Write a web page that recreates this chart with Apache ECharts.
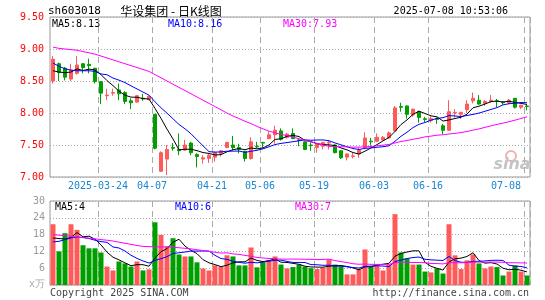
<!DOCTYPE html>
<html>
<head>
<meta charset="utf-8">
<script src="https://cdn.jsdelivr.net/npm/echarts@6/dist/echarts.min.js"></script>
<style>
  html, body { margin: 0; padding: 0; background: #fff; }
  #chart { width: 545px; height: 300px; }
</style>
</head>
<body>
<div id="chart"></div>
<script>
// trading days shown on the chart
const dates = [
  '2025-03-12', '2025-03-13', '2025-03-14', '2025-03-17', '2025-03-18', '2025-03-19', '2025-03-20', '2025-03-21',
  '2025-03-24', '2025-03-25', '2025-03-26', '2025-03-27', '2025-03-28', '2025-03-31', '2025-04-01', '2025-04-02',
  '2025-04-03', '2025-04-07', '2025-04-08', '2025-04-09', '2025-04-10', '2025-04-11', '2025-04-14', '2025-04-15',
  '2025-04-16', '2025-04-17', '2025-04-18', '2025-04-21', '2025-04-22', '2025-04-23', '2025-04-24', '2025-04-25',
  '2025-04-28', '2025-04-29', '2025-04-30', '2025-05-06', '2025-05-07', '2025-05-08', '2025-05-09', '2025-05-12',
  '2025-05-13', '2025-05-14', '2025-05-15', '2025-05-16', '2025-05-19', '2025-05-20', '2025-05-21', '2025-05-22',
  '2025-05-23', '2025-05-26', '2025-05-27', '2025-05-28', '2025-05-29', '2025-05-30', '2025-06-03', '2025-06-04',
  '2025-06-05', '2025-06-06', '2025-06-09', '2025-06-10', '2025-06-11', '2025-06-12', '2025-06-13', '2025-06-16',
  '2025-06-17', '2025-06-18', '2025-06-19', '2025-06-20', '2025-06-23', '2025-06-24', '2025-06-25', '2025-06-26',
  '2025-06-27', '2025-06-30', '2025-07-01', '2025-07-02', '2025-07-03', '2025-07-04', '2025-07-07', '2025-07-08'
];
const labelDays = ['2025-03-24', '2025-04-07', '2025-04-21', '2025-05-06', '2025-05-19', '2025-06-03', '2025-06-16', '2025-07-08'];

const opens = [
  8.50, 8.77, 8.70, 8.53, 8.62, 8.77, 8.76, 8.70, 8.49, 8.27, 8.31, 8.36, 8.32, 8.19, 8.17, 8.23,
  8.21, 7.98, 7.09, 7.28, 7.46, 7.43, 7.42, 7.53, 7.35, 7.28, 7.29, 7.31, 7.37, 7.46, 7.50, 7.46,
  7.40, 7.29, 7.48, 7.54, 7.60, 7.66, 7.72, 7.62, 7.68, 7.58, 7.55, 7.50, 7.46, 7.48, 7.53, 7.50,
  7.41, 7.31, 7.32, 7.36, 7.46, 7.56, 7.56, 7.58, 7.61, 7.72, 8.10, 8.11, 7.97, 8.02, 7.91, 7.88,
  7.91, 7.80, 7.73, 8.00, 7.98, 8.05, 8.19, 8.20, 8.15, 8.18, 8.19, 8.17, 8.16, 8.23, 8.09, 8.11
];
const closes = [
  8.84, 8.63, 8.56, 8.67, 8.75, 8.71, 8.74, 8.49, 8.31, 8.28, 8.32, 8.30, 8.18, 8.16, 8.27, 8.22,
  8.26, 7.45, 7.38, 7.43, 7.45, 7.41, 7.50, 7.38, 7.32, 7.30, 7.34, 7.38, 7.41, 7.54, 7.46, 7.43,
  7.29, 7.55, 7.47, 7.53, 7.66, 7.73, 7.59, 7.67, 7.60, 7.57, 7.43, 7.49, 7.51, 7.54, 7.54, 7.38,
  7.30, 7.36, 7.33, 7.42, 7.61, 7.55, 7.62, 7.62, 7.69, 8.08, 8.09, 7.98, 8.06, 7.93, 7.90, 7.91,
  7.90, 7.73, 8.02, 8.01, 8.01, 8.14, 8.23, 8.14, 8.18, 8.20, 8.18, 8.16, 8.20, 8.09, 8.12, 8.10
];
const lows = [
  8.46, 8.50, 8.51, 8.50, 8.60, 8.62, 8.62, 8.46, 8.14, 8.20, 8.27, 8.20, 8.14, 8.06, 8.16, 8.19,
  8.20, 7.43, 7.08, 7.03, 7.41, 7.34, 7.41, 7.34, 7.15, 7.21, 7.22, 7.24, 7.32, 7.45, 7.42, 7.37,
  7.24, 7.27, 7.45, 7.45, 7.59, 7.52, 7.57, 7.60, 7.59, 7.48, 7.42, 7.41, 7.38, 7.43, 7.43, 7.37,
  7.28, 7.26, 7.29, 7.30, 7.45, 7.49, 7.55, 7.57, 7.60, 7.71, 8.02, 7.91, 7.94, 7.85, 7.86, 7.85,
  7.83, 7.67, 7.72, 7.93, 7.91, 8.00, 8.15, 8.13, 8.11, 8.16, 8.09, 8.13, 8.14, 8.07, 8.06, 8.04
];
const highs = [
  8.89, 8.79, 8.72, 8.77, 8.89, 8.78, 8.85, 8.70, 8.50, 8.38, 8.38, 8.46, 8.34, 8.23, 8.28, 8.30,
  8.27, 7.98, 7.40, 7.50, 7.53, 7.68, 7.58, 7.55, 7.37, 7.34, 7.37, 7.40, 7.42, 7.55, 7.64, 7.52,
  7.41, 7.62, 7.55, 7.55, 7.71, 7.80, 7.76, 7.69, 7.76, 7.60, 7.56, 7.54, 7.53, 7.55, 7.57, 7.51,
  7.42, 7.37, 7.38, 7.46, 7.70, 7.61, 7.68, 7.64, 7.71, 8.11, 8.16, 8.12, 8.07, 8.04, 7.94, 7.95,
  7.93, 7.83, 8.20, 8.06, 8.02, 8.20, 8.32, 8.28, 8.20, 8.28, 8.22, 8.18, 8.22, 8.23, 8.13, 8.14
];
// volume, 万手
const volumes = [
  21.7, 12.0, 18.5, 21.7, 19.7, 14.2, 13.1, 13.1, 11.6, 6.6, 5.2, 8.4, 7.7, 6.6, 8.4, 5.2,
  5.6, 22.4, 17.9, 13.8, 16.7, 10.9, 10.2, 10.2, 8.1, 5.9, 5.2, 7.0, 6.6, 10.6, 10.2, 7.0,
  7.0, 13.4, 6.3, 8.1, 8.8, 10.2, 7.3, 5.9, 6.4, 7.3, 6.6, 6.0, 5.7, 6.2, 9.1, 7.3,
  6.6, 3.8, 3.8, 5.6, 12.7, 6.6, 7.0, 5.2, 7.3, 25.3, 11.6, 9.5, 7.3, 7.3, 4.8, 4.5,
  5.9, 4.1, 21.7, 10.6, 5.7, 8.8, 10.9, 7.7, 5.9, 6.6, 6.4, 3.4, 4.8, 7.0, 4.8, 3.4
];

// averages before enough days are on the chart
const ma5Head = [8.66, 8.64, 8.63, 8.64];
const ma10Head = [8.78, 8.73, 8.69, 8.67, 8.66, 8.66, 8.66, 8.65, 8.61];
const ma30Head = [9.03, 9.01, 9.00, 8.99, 8.98, 8.96, 8.94, 8.92, 8.89, 8.86, 8.83, 8.80, 8.77, 8.74, 8.71,
  8.68, 8.65, 8.60, 8.55, 8.50, 8.45, 8.40, 8.35, 8.30, 8.25, 8.20, 8.15, 8.10, 8.05];
const vma5Head = [16.8, 16.6, 16.4, 17.0];
const vma10Head = [15.4, 15.6, 16.2, 16.8, 17.1, 17.0, 16.6, 16.0, 15.5];
const vma30Head = [18.0, 17.8, 17.6, 17.4, 17.1, 16.9, 16.7, 16.5, 16.2, 16.0, 15.7, 15.3, 14.9, 14.5, 14.1,
  13.8, 13.7, 13.6, 13.6, 13.6, 13.5, 13.3, 13.1, 12.9, 12.6, 12.3, 12.0, 11.7, 11.4];

const UP = '#ff5a5a';
const DOWN = '#009f00';
const MONO = '"DejaVu Sans Mono", monospace';

function movingAverage(values, n, head) {
  return values.map((v, i) => {
    if (i < n - 1) return head[i];
    let sum = 0;
    for (let j = i - n + 1; j <= i; j++) sum += values[j];
    return +(sum / n).toFixed(3);
  });
}

const candles = dates.map((d, i) => [opens[i], closes[i], lows[i], highs[i]]);
const volBars = volumes.map((v, i) => ({
  value: v,
  itemStyle: { color: closes[i] >= opens[i] ? UP : DOWN }
}));

const isLabelDay = (idx, val) => labelDays.includes(val);

const dashedSplit = {
  show: true,
  interval: isLabelDay,
  lineStyle: { color: '#aaa', type: [6, 4], width: 1 }
};
const dottedSplit = {
  show: true,
  lineStyle: { color: '#aaa', type: [1, 2], width: 1 }
};

function maLine(name, data, color, x, y) {
  return {
    name, type: 'line', xAxisIndex: x, yAxisIndex: y, data,
    showSymbol: false, symbol: 'none', silent: true,
    lineStyle: { color, width: 1 }
  };
}

function label(text, x, y, color, align, font) {
  return {
    type: 'text', x, y, silent: true,
    style: {
      text, fill: color, textAlign: align || 'left', textVerticalAlign: 'middle',
      font: font || '10px ' + MONO
    }
  };
}

const chart = echarts.init(document.getElementById('chart'));
chart.setOption({
  animation: false,
  backgroundColor: '#fff',
  grid: [
    { left: 50, top: 17, width: 480, height: 160, show: true, borderColor: '#999', borderWidth: 1, backgroundColor: 'transparent' },
    { left: 50, top: 201, width: 480, height: 84, show: true, borderColor: '#999', borderWidth: 1, backgroundColor: 'transparent' }
  ],
  xAxis: [
    {
      type: 'category', gridIndex: 0, data: dates, boundaryGap: true,
      axisLine: { show: false }, axisTick: { show: false },
      axisLabel: {
        interval: isLabelDay,
        formatter: (v) => v === labelDays[0] ? v : v.slice(5),
        color: '#1a87d2', fontFamily: MONO, fontSize: 10, margin: 4,
        padding: [0, 6, 0, 0], alignMaxLabel: 'right'
      },
      splitLine: dashedSplit
    },
    {
      type: 'category', gridIndex: 1, data: dates, boundaryGap: true,
      axisLine: { show: false }, axisTick: { show: false }, axisLabel: { show: false },
      splitLine: dashedSplit
    }
  ],
  yAxis: [
    {
      type: 'value', gridIndex: 0, min: 7, max: 9.5, interval: 0.5,
      axisLine: { show: false }, axisTick: { show: false },
      axisLabel: { color: '#f00', fontFamily: MONO, fontSize: 10, margin: 6, formatter: (v) => v.toFixed(2) },
      splitLine: dottedSplit
    },
    {
      type: 'value', gridIndex: 1, min: 0, max: 30, interval: 6,
      axisLine: { show: false }, axisTick: { show: false },
      axisLabel: { color: '#999', fontFamily: MONO, fontSize: 10, margin: 5, formatter: (v) => v === 0 ? '' : v },
      splitLine: dottedSplit
    }
  ],
  series: [
    {
      type: 'candlestick', xAxisIndex: 0, yAxisIndex: 0, data: candles, barWidth: 4, silent: true,
      itemStyle: { color: UP, color0: DOWN, borderColor: UP, borderColor0: DOWN, borderWidth: 1 }
    },
    maLine('MA5', movingAverage(closes, 5, ma5Head), '#000', 0, 0),
    maLine('MA10', movingAverage(closes, 10, ma10Head), '#0000ff', 0, 0),
    maLine('MA30', movingAverage(closes, 30, ma30Head), '#ff00ff', 0, 0),
    { type: 'bar', xAxisIndex: 1, yAxisIndex: 1, data: volBars, barWidth: 5, silent: true },
    maLine('VMA5', movingAverage(volumes, 5, vma5Head), '#000', 1, 1),
    maLine('VMA10', movingAverage(volumes, 10, vma10Head), '#0000ff', 1, 1),
    maLine('VMA30', movingAverage(volumes, 30, vma30Head), '#ff00ff', 1, 1)
  ],
  graphic: [
    label('sh603018', 48, 11, '#000', 'left', '11px ' + MONO),
    label('华设集团 - 日K线图', 171, 11, '#000', 'center', '12px "Noto Sans CJK SC", sans-serif'),
    label('2025-07-08 10:53:06', 508, 11, '#000', 'right'),
    label('MA5:8.13', 52, 24, '#000'),
    label('MA10:8.16', 168, 24, '#0000ff'),
    label('MA30:7.93', 283, 24, '#ff00ff'),
    label('MA5:4', 55, 207, '#000'),
    label('MA10:6', 175, 207, '#0000ff'),
    label('MA30:7', 295, 207, '#ff00ff'),
    label('x万', 45, 284, '#aaa', 'right'),
    label('Copyright 2025 SINA.COM', 50, 293, '#444'),
    label('http://finance.sina.com.cn', 529, 293, '#444', 'right'),
    {
      type: 'circle', silent: true, shape: { cx: 511, cy: 156, r: 5 },
      style: { fill: 'none', stroke: '#f3b0b0', lineWidth: 2 }
    },
    label('sina', 512, 165, '#c4c4c4', 'center', 'italic bold 16px "DejaVu Sans", sans-serif')
  ]
});
</script>
</body>
</html>
